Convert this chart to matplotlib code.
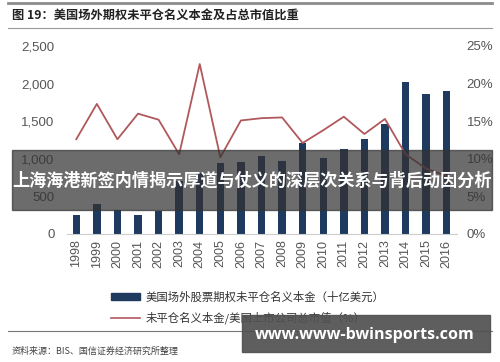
import matplotlib
matplotlib.use("Agg")
import matplotlib.pyplot as plt
from matplotlib.patches import Rectangle
from matplotlib.lines import Line2D
from matplotlib.ticker import FuncFormatter

plt.rcParams["font.family"] = ["Noto Sans CJK SC", "DejaVu Sans"]

years = [str(y) for y in range(1998, 2017)]
notional = [250, 400, 320, 250, 300, 700, 815, 940, 960, 1040, 975,
            1205, 1010, 1130, 1265, 1460, 2025, 1860, 1905]
ratio_pct = [12.6, 17.3, 12.6, 16.0, 15.2, 10.6, 22.6, 10.2, 15.1, 15.4, 15.5,
             12.1, 13.8, 15.6, 13.3, 15.3, 10.6, 8.7, 7.7]

title = "图 19：美国场外期权未平仓名义本金及占总市值比重"
bar_label = "美国场外股票期权未平仓名义本金（十亿美元）"
line_label = "未平仓名义本金/美国上市公司总市值（%）"
source = "资料来源：BIS、国信证券经济研究所整理"
banner = "上海海港新签内情揭示厚道与仗义的深层次关系与背后动因分析"
watermark = "www.www-bwinsports.com"

W, H = 500, 362
BAR_C = "#1f3a5f"
LINE_C = "#b0585c"
TICK_C = "#555555"


def fx(px):
    return px / W


def fy(py):
    return 1 - py / H


fig = plt.figure(figsize=(W / 100, H / 100), dpi=100)

# header
fig.add_artist(Line2D([fx(8), fx(492)], [fy(3), fy(3)], color="#8c8c8c", lw=2))
fig.text(fx(12), fy(15), title, fontsize=8.8, fontweight="bold", va="center", color="#222222")
fig.add_artist(Line2D([fx(8), fx(492)], [fy(28), fy(28)], color="#9a9a9a", lw=0.8))

ax = fig.add_axes([fx(67), fy(234), fx(457) - fx(67), fy(46) - fy(234)])
x = list(range(len(years)))
ax.bar(x, notional, width=0.36, color=BAR_C, zorder=2)
ax.set_xlim(-0.45, 18.5)
ax.set_ylim(0, 2500)
ax.set_yticks(range(0, 2501, 500))
ax.yaxis.set_major_formatter(FuncFormatter(lambda v, p: f"{int(v):,}"))
ax.set_xticks(x)
ax.set_xticklabels(years, rotation=90)
for s in ["top", "right", "left"]:
    ax.spines[s].set_visible(False)
ax.spines["bottom"].set_color("#cccccc")
ax.tick_params(axis="y", length=0, labelsize=9.5, colors=TICK_C, pad=9)
ax.tick_params(axis="x", length=0, labelsize=9, colors=TICK_C, pad=4)

ax2 = ax.twinx()
ax2.plot(x, ratio_pct, color=LINE_C, lw=1.3, zorder=3)
ax2.set_ylim(0, 25)
ax2.set_yticks(range(0, 26, 5))
ax2.yaxis.set_major_formatter(FuncFormatter(lambda v, p: f"{int(v)}%"))
for s in ["top", "right", "left", "bottom"]:
    ax2.spines[s].set_visible(False)
ax2.tick_params(axis="y", length=0, labelsize=9.5, colors=TICK_C, pad=7)
for t in ax.get_yticklabels() + ax2.get_yticklabels() + ax.get_xticklabels():
    t.set_family("Liberation Sans")

# legend
handles = [Rectangle((0, 0), 1, 1, color=BAR_C), Line2D([], [], color=LINE_C, lw=1.2)]
fig.legend(handles, [bar_label, line_label], loc="upper left",
           bbox_to_anchor=(fx(106), fy(287)), frameon=False, fontsize=8.2,
           handlelength=2.6, handleheight=0.55, labelspacing=0.75,
           handletextpad=0.5, labelcolor="#333333", borderaxespad=0)

# footer
fig.add_artist(Line2D([fx(8), fx(492)], [fy(331), fy(331)], color="#777777", lw=0.8))
fig.text(fx(12), fy(351), source, fontsize=6.5, va="center", color="#444444")

# overlays
fig.add_artist(Rectangle((fx(12), fy(210)), fx(492) - fx(12), fy(150) - fy(210),
                         transform=fig.transFigure, color="#333333", alpha=0.72, zorder=10))
fig.text(fx(252), fy(181), banner, fontsize=12.3, fontweight="bold", color="white",
         ha="center", va="center", zorder=11)
fig.add_artist(Rectangle((fx(242), fy(352)), fx(490) - fx(242), fy(315) - fy(352),
                         transform=fig.transFigure, color="#505050", alpha=0.92, zorder=10))
fig.text(fx(365), fy(335), watermark, fontsize=11.6, fontweight="bold", color="white",
         ha="center", va="center", zorder=11, family="Open Sans")

fig.savefig("out.png", dpi=100)
